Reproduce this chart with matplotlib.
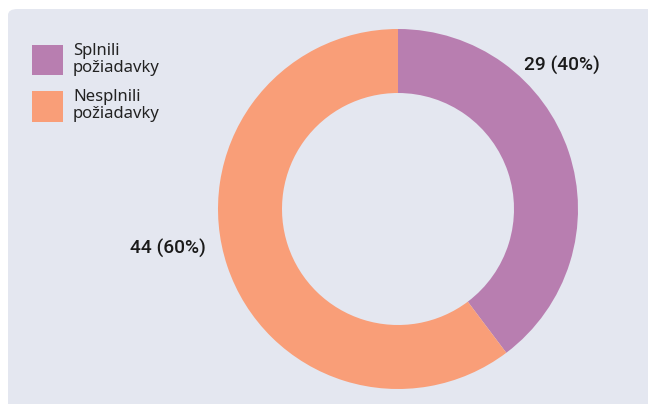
import matplotlib
matplotlib.use("Agg")
import matplotlib.pyplot as plt
from matplotlib.patches import FancyBboxPatch

categories = ["Splnili\npožiadavky", "Nesplnili\npožiadavky"]
values = [29, 44]
percent_labels = ["29 (40%)", "44 (60%)"]
colors = ["#b87eb0", "#f99e78"]

plt.rcParams['font.family'] = ['Noto Sans', 'DejaVu Sans']

W, H = 648, 404
fig = plt.figure(figsize=(W / 100, H / 100), dpi=100)
fig.patch.set_facecolor("white")

panel = FancyBboxPatch((8 / W, -0.05), 1.2, (404 - 9) / H + 0.05,
                       boxstyle="round,pad=0,rounding_size=0.015",
                       transform=fig.transFigure, facecolor="#e4e7f0",
                       edgecolor="none", zorder=-10)
fig.patches.append(panel)

cx, cy, R = 398, 209, 180
ax = fig.add_axes([(cx - R) / W, (H - cy - R) / H, 2 * R / W, 2 * R / H])
ax.set_zorder(1)
ax.set_facecolor("none")
wedges, _ = ax.pie(values, colors=colors, startangle=90, counterclock=False,
                   radius=1.0, wedgeprops=dict(width=1 - 116 / 180, edgecolor="none"))
ax.set_xlim(-1, 1)
ax.set_ylim(-1, 1)
ax.set_aspect("equal")
ax.axis("off")

label_pos = [(0.911, 0.80), (-1.278, -0.217)]
for (x, y), t in zip(label_pos, percent_labels):
    ax.text(x, y, t, ha="center", va="center", fontsize=13.8, fontweight="medium",
            family=["Roboto", "DejaVu Sans"], color="#1a1a1a", clip_on=False)

leg = fig.legend(wedges, categories, loc="upper left",
                 bbox_to_anchor=(25 / W, 1 - 36 / H), frameon=False,
                 fontsize=12, handlelength=1.86, handleheight=2.45,
                 handletextpad=0.62, labelspacing=0.78, borderaxespad=0)
leg.set_zorder(2)
for t in leg.get_texts():
    t.set_color("#222222")
    t.set_linespacing(1.1)

fig.savefig("out.png", dpi=100)
